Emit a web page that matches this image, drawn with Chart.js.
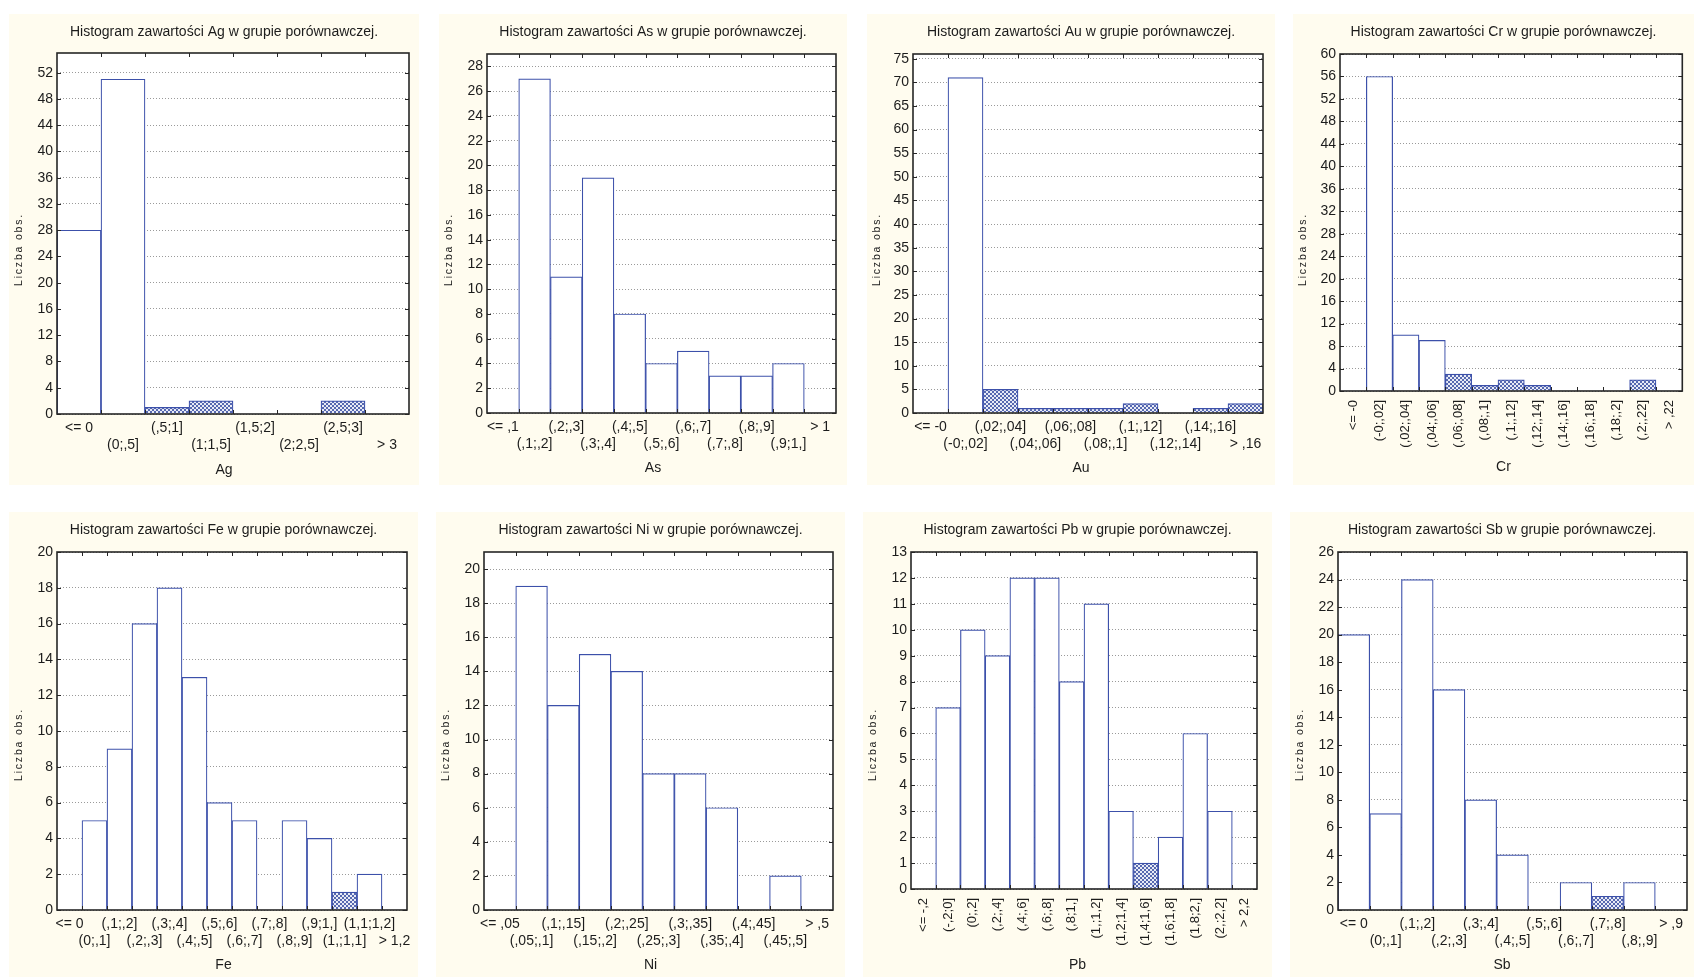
<!DOCTYPE html>
<html>
<head>
<meta charset="utf-8">
<script src="https://cdn.jsdelivr.net/npm/chart.js@4.4.1/dist/chart.umd.min.js"></script>
<style>
  html, body { margin: 0; padding: 0; background: #fff; }
  body { width: 1694px; height: 977px; position: relative; overflow: hidden; }
  .panel { position: absolute; background: #fffcef; }
  .panel canvas { position: absolute; left: 0; top: 0; }
</style>
</head>
<body>
<script>
// --- data: bins and counts ---
const agBins = ['<= 0', '(0;,5]', '(,5;1]', '(1;1,5]', '(1,5;2]', '(2;2,5]', '(2,5;3]', '> 3'];
const agCounts = [28, 51, 1, 2, 0, 0, 2, 0];

const asBins = ['<= ,1', '(,1;,2]', '(,2;,3]', '(,3;,4]', '(,4;,5]', '(,5;,6]', '(,6;,7]', '(,7;,8]', '(,8;,9]', '(,9;1,]', '> 1'];
const asCounts = [0, 27, 11, 19, 8, 4, 5, 3, 3, 4, 0];

const auBins = ['<= -0', '(-0;,02]', '(,02;,04]', '(,04;,06]', '(,06;,08]', '(,08;,1]', '(,1;,12]', '(,12;,14]', '(,14;,16]', '> ,16'];
const auCounts = [0, 71, 5, 1, 1, 1, 2, 0, 1, 2];

const crBins = ['<= -0', '(-0;,02]', '(,02;,04]', '(,04;,06]', '(,06;,08]', '(,08;,1]', '(,1;,12]', '(,12;,14]', '(,14;,16]', '(,16;,18]', '(,18;,2]', '(,2;,22]', '> ,22'];
const crCounts = [0, 56, 10, 9, 3, 1, 2, 1, 0, 0, 0, 2, 0];

const feBins = ['<= 0', '(0;,1]', '(,1;,2]', '(,2;,3]', '(,3;,4]', '(,4;,5]', '(,5;,6]', '(,6;,7]', '(,7;,8]', '(,8;,9]', '(,9;1,]', '(1,;1,1]', '(1,1;1,2]', '> 1,2'];
const feCounts = [0, 5, 9, 16, 18, 13, 6, 5, 0, 5, 4, 1, 2, 0];

const niBins = ['<= ,05', '(,05;,1]', '(,1;,15]', '(,15;,2]', '(,2;,25]', '(,25;,3]', '(,3;,35]', '(,35;,4]', '(,4;,45]', '(,45;,5]', '> ,5'];
const niCounts = [0, 19, 12, 15, 14, 8, 8, 6, 0, 2, 0];

const pbBins = ['<= -,2', '(-,2;0]', '(0;,2]', '(,2;,4]', '(,4;,6]', '(,6;,8]', '(,8;1,]', '(1,;1,2]', '(1,2;1,4]', '(1,4;1,6]', '(1,6;1,8]', '(1,8;2,]', '(2,;2,2]', '> 2,2'];
const pbCounts = [0, 7, 10, 9, 12, 12, 8, 11, 3, 1, 2, 6, 3, 0];

const sbBins = ['<= 0', '(0;,1]', '(,1;,2]', '(,2;,3]', '(,3;,4]', '(,4;,5]', '(,5;,6]', '(,6;,7]', '(,7;,8]', '(,8;,9]', '> ,9'];
const sbCounts = [20, 7, 24, 16, 8, 4, 0, 2, 1, 2, 0];

// y axis ranges (max, step)
const agAxis = [55, 4], asAxis = [29, 2], auAxis = [76, 5], crAxis = [60, 4];
const feAxis = [20, 2], niAxis = [21, 2], pbAxis = [13, 1], sbAxis = [26, 2];

// --- layout of the 2x4 grid (box: x,y,w,h ; plot: left,right,top,bottom ; xt: x title centre) ---
const panels = [
  { el: 'Ag', bins: agBins, counts: agCounts, axis: agAxis, hatched: [2, 3, 6], box: [9, 14, 410, 471], plot: [48, 400, 39, 400], xt: 456 },
  { el: 'As', bins: asBins, counts: asCounts, axis: asAxis, hatched: [], box: [439, 14, 408, 471], plot: [48, 397, 40, 399], xt: 454 },
  { el: 'Au', bins: auBins, counts: auCounts, axis: auAxis, hatched: [2, 3, 4, 5, 6, 8, 9], box: [867, 14, 408, 471], plot: [46, 396, 40, 399], xt: 454 },
  { el: 'Cr', bins: crBins, counts: crCounts, axis: crAxis, hatched: [4, 5, 6, 7, 11], box: [1293, 14, 401, 471], plot: [47, 394, 40, 377], xt: 453, rotate: true },
  { el: 'Fe', bins: feBins, counts: feCounts, axis: feAxis, hatched: [11], box: [9, 512, 409, 465], plot: [48, 398, 40, 398], xt: 453 },
  { el: 'Ni', bins: niBins, counts: niCounts, axis: niAxis, hatched: [], box: [436, 512, 409, 465], plot: [48, 397, 40, 398], xt: 453 },
  { el: 'Pb', bins: pbBins, counts: pbCounts, axis: pbAxis, hatched: [9], box: [863, 512, 409, 465], plot: [48, 394, 40, 377], xt: 453, rotate: true },
  { el: 'Sb', bins: sbBins, counts: sbCounts, axis: sbAxis, hatched: [8], box: [1290, 512, 404, 465], plot: [48, 397, 40, 398], xt: 453 }
];

const FONT = "'Liberation Sans', Arial, sans-serif";
const INK = '#1c1c1c';
const BAR_BLUE = '#3c50aa';
Chart.defaults.font.family = FONT;
Chart.defaults.color = INK;

// small cross-hatch used by statistica for the outlying bins
function makeHatch() {
  const c = document.createElement('canvas');
  c.width = 4; c.height = 4;
  const g = c.getContext('2d');
  g.fillStyle = '#e8ebf6';
  g.fillRect(0, 0, 4, 4);
  g.fillStyle = '#5668b0';
  for (let i = 0; i < 4; i++) {
    g.fillRect(i, i, 1, 1);
    g.fillRect(3 - i, i, 1, 1);
  }
  return g.createPattern(c, 'repeat');
}
const hatch = makeHatch();

function text(ctx, str, x, y, size, spacing, angle) {
  ctx.save();
  ctx.translate(x, y);
  if (angle) ctx.rotate(angle);
  ctx.font = size + 'px ' + FONT;
  ctx.letterSpacing = spacing + 'px';
  ctx.fillStyle = INK;
  ctx.textAlign = 'center';
  ctx.textBaseline = 'middle';
  ctx.fillText(str, 0, 0);
  ctx.restore();
}

// white plot area, black frame, inner tick marks, titles placed like statistica does
const statFrame = {
  id: 'statFrame',
  beforeDraw(chart) {
    const { ctx, chartArea: a } = chart;
    ctx.save();
    ctx.fillStyle = '#ffffff';
    ctx.fillRect(a.left, a.top, a.right - a.left, a.bottom - a.top);
    ctx.restore();
  },
  afterDatasetsDraw(chart) {
    const { ctx, chartArea: a } = chart;
    const xs = chart.scales.x, ys = chart.scales.y;
    ctx.save();
    ctx.strokeStyle = '#262626';
    ctx.lineWidth = 1;
    ctx.beginPath();
    const n = xs.ticks.length;
    const half = (xs.getPixelForValue(1) - xs.getPixelForValue(0)) / 2;
    for (let i = 1; i < n; i++) {
      const x = Math.round(xs.getPixelForValue(i) - half) + 0.5;
      ctx.moveTo(x, a.top); ctx.lineTo(x, a.top + 4);
      ctx.moveTo(x, a.bottom); ctx.lineTo(x, a.bottom - 4);
    }
    ys.ticks.forEach(t => {
      const y = Math.round(ys.getPixelForValue(t.value)) + 0.5;
      ctx.moveTo(a.left, y); ctx.lineTo(a.left + 4, y);
      ctx.moveTo(a.right, y); ctx.lineTo(a.right - 4, y);
    });
    ctx.stroke();
    ctx.lineWidth = 1.6;
    ctx.strokeRect(a.left, a.top, a.right - a.left, a.bottom - a.top);
    ctx.restore();
  },
  afterDraw(chart, args, opts) {
    const ctx = chart.ctx;
    const cx = chart.width / 2 + 10;
    text(ctx, opts.title, cx, 18, 14, 0);
    text(ctx, opts.xTitle, cx, opts.xTitleY, 14, 0);
    text(ctx, 'Liczba obs.', 10, chart.height / 2, 10.5, 1.8, -Math.PI / 2);
  }
};

panels.forEach(p => {
  const [bx, by, w, h] = p.box;
  const [pl, pr, pt, pb] = p.plot;
  const div = document.createElement('div');
  div.className = 'panel';
  div.style.left = bx + 'px';
  div.style.top = by + 'px';
  div.style.width = w + 'px';
  div.style.height = h + 'px';
  const canvas = document.createElement('canvas');
  canvas.width = w;
  canvas.height = h;
  div.appendChild(canvas);
  document.body.appendChild(div);

  // staggered labels: every second bin goes on a second line
  const labels = p.rotate ? p.bins : p.bins.map((b, i) => (i % 2 ? ['', b] : b));
  const rot = p.rotate ? 90 : 0;

  new Chart(canvas, {
    type: 'bar',
    data: {
      labels: labels,
      datasets: [{
        data: p.counts,
        backgroundColor: c => (p.hatched.includes(c.dataIndex) ? hatch : '#ffffff'),
        borderColor: BAR_BLUE,
        borderWidth: 1.2,
        borderSkipped: 'start',
        categoryPercentage: 1,
        barPercentage: 1
      }]
    },
    options: {
      responsive: false,
      animation: false,
      events: [],
      layout: { padding: { left: 0, right: w - pr, top: pt, bottom: 0 } },
      plugins: {
        legend: { display: false },
        tooltip: { enabled: false },
        title: { display: false },
        statFrame: {
          title: 'Histogram zawartości ' + p.el + ' w grupie porównawczej.',
          xTitle: p.el,
          xTitleY: p.xt
        }
      },
      scales: {
        x: {
          grid: { display: false, drawTicks: false },
          border: { display: false },
          ticks: {
            autoSkip: false,
            minRotation: rot,
            maxRotation: rot,
            padding: p.rotate ? 9 : 6,
            color: INK,
            font: { size: p.rotate ? 13 : 14, lineHeight: 1.2 }
          },
          afterFit: s => { s.height = h - pb; }
        },
        y: {
          min: 0,
          max: p.axis[0],
          grid: { color: '#9a9a9a', lineWidth: 1, drawTicks: false },
          border: { display: false, dash: [1, 2] },
          ticks: {
            stepSize: p.axis[1],
            includeBounds: false,
            padding: 4,
            color: INK,
            font: { size: 14 }
          },
          afterFit: s => { s.width = pl; }
        }
      }
    },
    plugins: [statFrame]
  });
});
</script>
</body>
</html>
